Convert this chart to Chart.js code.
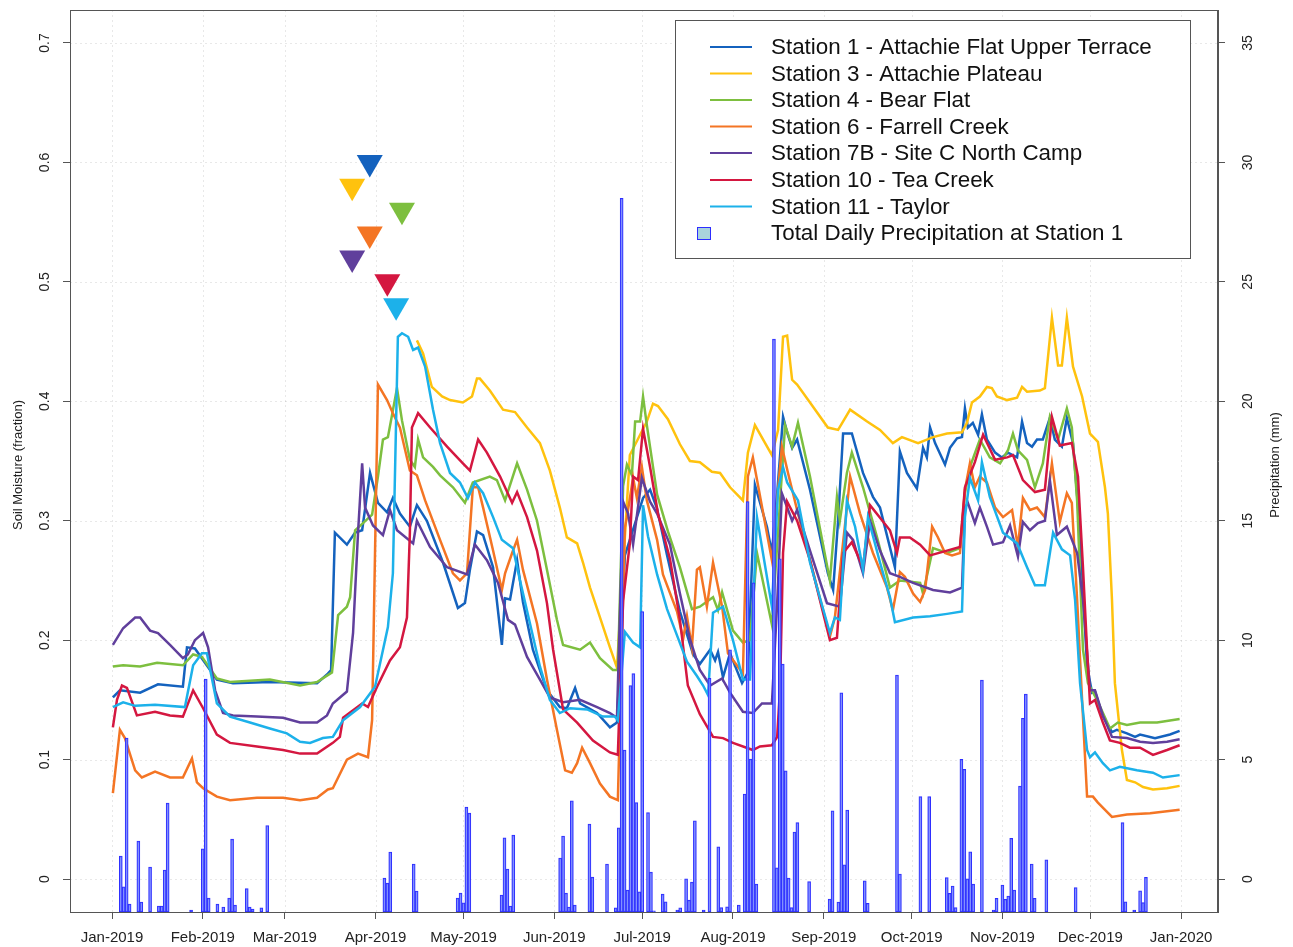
<!DOCTYPE html>
<html><head><meta charset="utf-8">
<script src="https://cdn.jsdelivr.net/npm/chart.js@4.4.1/dist/chart.umd.min.js"></script>
<style>html,body{margin:0;padding:0;background:#fff;overflow:hidden}</style>
</head><body><canvas id="c" width="1293" height="947"></canvas>
<script>
// ---------- DATA ----------
// x = day of 2019 (0 = Jan 1), y = soil moisture fraction
const monthDays = [0,31,59,90,120,151,181,212,243,273,304,334,365];
const monthLabels = ["Jan-2019","Feb-2019","Mar-2019","Apr-2019","May-2019","Jun-2019","Jul-2019","Aug-2019","Sep-2019","Oct-2019","Nov-2019","Dec-2019","Jan-2020"];
const moistureTicks = [0,0.1,0.2,0.3,0.4,0.5,0.6,0.7];
const moistureTickLabels = ["0","0.1","0.2","0.3","0.4","0.5","0.6","0.7"];
const precipTicks = [0,5,10,15,20,25,30,35];
const precipTickLabels = ["0","5","10","15","20","25","30","35"];

const stationNames = ["Station 1 - Attachie Flat Upper Terrace","Station 3 - Attachie Plateau","Station 4 - Bear Flat","Station 6 - Farrell Creek","Station 7B - Site C North Camp","Station 10 - Tea Creek","Station 11 - Taylor"];
const precipName = "Total Daily Precipitation at Station 1";

const st1 = [[0.3,0.152],[2.7,0.158],[9.6,0.156],[15.7,0.163],[24.2,0.161],[25.6,0.194],[28.3,0.193],[35.8,0.167],[41.3,0.164],[53.9,0.165],[70,0.164],[73.7,0.172],[74.8,0.175],[76.1,0.29],[80.2,0.28],[83,0.29],[85.4,0.292],[88.1,0.34],[90.8,0.315],[93.9,0.307],[95.9,0.319],[98.3,0.306],[101.7,0.295],[104.1,0.313],[107.5,0.30],[113,0.265],[118.1,0.227],[120.5,0.231],[122.2,0.259],[124.6,0.291],[126.7,0.288],[130.1,0.261],[133.1,0.196],[134.2,0.235],[135.9,0.234],[138.3,0.267],[140.3,0.232],[143.7,0.192],[148.5,0.158],[152.9,0.144],[155.3,0.143],[158.1,0.16],[159.8,0.147],[165.6,0.139],[170,0.127],[172.4,0.131],[175.1,0.271],[181.3,0.319],[183.7,0.326],[186.1,0.31],[189.5,0.271],[193.9,0.224],[198.4,0.188],[200.7,0.18],[204.2,0.192],[205.9,0.183],[206.9,0.19],[208.6,0.169],[211,0.189],[215.1,0.164],[217.1,0.173],[219.5,0.33],[223.6,0.295],[225.3,0.273],[227.1,0.323],[229.1,0.387],[230.5,0.374],[232.2,0.361],[233.9,0.368],[238.3,0.326],[244.4,0.256],[246.2,0.242],[247.9,0.30],[249.6,0.373],[252.6,0.373],[256.4,0.34],[259.8,0.32],[262.2,0.311],[267.3,0.261],[269,0.358],[271.4,0.34],[274.8,0.327],[276.9,0.361],[278.2,0.353],[279.3,0.378],[281,0.365],[284.4,0.347],[286.1,0.361],[288.5,0.369],[290.2,0.37],[291.2,0.394],[292.2,0.378],[293.9,0.382],[295.7,0.372],[297,0.389],[298.7,0.368],[301.5,0.357],[303.8,0.353],[305.9,0.357],[309,0.353],[310.7,0.383],[312.4,0.365],[314.1,0.362],[315.8,0.368],[317.8,0.368],[320.2,0.386],[321.9,0.368],[324.3,0.362],[326,0.386],[328.1,0.365],[330.5,0.29],[332.9,0.178],[334.6,0.156],[335.6,0.157],[338.3,0.136],[341.4,0.123],[343.1,0.125],[346.5,0.122],[349.3,0.119],[351,0.121],[356.1,0.118],[361.2,0.121],[364.5,0.124]];

const st3 = [[104.1,0.451],[106.2,0.44],[109.2,0.412],[112.7,0.404],[115.4,0.401],[119.8,0.399],[122.9,0.404],[124.6,0.419],[125.6,0.419],[129,0.409],[133.5,0.393],[137.6,0.391],[141.7,0.378],[146.1,0.365],[149.5,0.342],[152.9,0.311],[155.3,0.286],[158.8,0.281],[160.8,0.265],[163.2,0.244],[166.6,0.219],[170,0.194],[172.4,0.177],[176.8,0.355],[182.6,0.383],[184.7,0.398],[186.4,0.396],[189.8,0.385],[193.9,0.364],[197.3,0.35],[200.7,0.349],[204.8,0.341],[207.6,0.34],[211,0.328],[215.4,0.317],[217.1,0.357],[219.5,0.38],[225.3,0.355],[227.4,0.376],[229.1,0.454],[230.5,0.455],[232.2,0.418],[233.9,0.414],[238.3,0.399],[244.4,0.378],[247.9,0.376],[252,0.393],[257.8,0.383],[262.2,0.376],[266.6,0.365],[269.7,0.37],[275.2,0.365],[280.3,0.37],[285.1,0.373],[290.2,0.374],[291.9,0.382],[293.6,0.399],[296.3,0.404],[298.7,0.412],[300.4,0.411],[302.1,0.404],[305.6,0.401],[309,0.403],[310.7,0.412],[312.4,0.408],[316.8,0.409],[318.5,0.411],[320.9,0.47],[323,0.43],[324.3,0.43],[326,0.47],[328.1,0.429],[331.2,0.404],[333.9,0.373],[336.6,0.366],[339,0.328],[340,0.306],[341.4,0.234],[342.4,0.164],[344.8,0.108],[346.5,0.083],[349.3,0.081],[352,0.077],[355.4,0.075],[360.2,0.076],[364.5,0.078]];

const st4 = [[0.3,0.178],[3.8,0.179],[9.6,0.178],[15.4,0.181],[24.2,0.179],[27.7,0.188],[30.7,0.186],[35.8,0.168],[40.3,0.165],[53.9,0.167],[64.2,0.162],[70,0.165],[75.1,0.173],[77.2,0.221],[80.2,0.228],[81.3,0.236],[83,0.292],[85.7,0.298],[88.8,0.305],[90.8,0.337],[92.5,0.368],[94.2,0.37],[97.3,0.411],[99,0.384],[101.7,0.351],[103.4,0.345],[104.5,0.368],[106.2,0.353],[109.6,0.345],[112,0.338],[116.4,0.328],[120.5,0.315],[123.2,0.332],[129,0.337],[131.4,0.334],[134.2,0.317],[138.3,0.348],[141.7,0.326],[145.1,0.30],[148.5,0.259],[151.9,0.217],[154,0.196],[159.8,0.192],[163.2,0.198],[166.6,0.185],[171,0.175],[172.7,0.175],[174.5,0.329],[175.8,0.347],[177.5,0.338],[178.6,0.383],[180.3,0.383],[181.3,0.404],[182.6,0.38],[186.1,0.322],[189.8,0.291],[193.9,0.261],[198,0.226],[200.7,0.228],[205.2,0.236],[206.9,0.225],[208.3,0.24],[212,0.208],[215.4,0.198],[217.8,0.20],[220.2,0.273],[225.3,0.213],[229.8,0.38],[232.2,0.362],[234.2,0.382],[238.3,0.337],[245.1,0.25],[247.5,0.32],[248.5,0.30],[250.9,0.34],[252.6,0.357],[256.4,0.328],[261.2,0.286],[265.6,0.244],[269,0.25],[275.9,0.248],[276.9,0.239],[280.3,0.277],[285.1,0.273],[289.5,0.277],[291.2,0.323],[292.9,0.345],[296.3,0.368],[299.7,0.353],[303.2,0.348],[305.9,0.359],[307.6,0.373],[309.3,0.359],[312.4,0.351],[315.1,0.328],[317.8,0.348],[320.2,0.387],[323,0.368],[326,0.394],[327.7,0.378],[329.5,0.317],[331.5,0.192],[333.2,0.164],[336.3,0.15],[340.7,0.126],[343.4,0.131],[346.5,0.129],[351,0.131],[356.8,0.131],[364.5,0.134]];

const st6 = [[0.3,0.072],[2.7,0.125],[4.4,0.118],[7.9,0.091],[10.2,0.085],[14.7,0.09],[19.8,0.085],[24.2,0.085],[27.3,0.101],[29,0.081],[31.1,0.076],[35.8,0.069],[40.3,0.066],[49.5,0.068],[58.4,0.068],[64.2,0.066],[70,0.068],[73.7,0.075],[75.4,0.076],[80.2,0.10],[84,0.105],[87.4,0.102],[88.8,0.133],[90.8,0.414],[93.9,0.401],[95.9,0.39],[98.3,0.378],[101.7,0.342],[104.1,0.338],[106.9,0.317],[112,0.284],[116.4,0.256],[118.8,0.25],[121.2,0.256],[123.2,0.328],[125,0.328],[126.7,0.311],[130.1,0.275],[133.1,0.242],[134.2,0.256],[136.6,0.273],[138.3,0.284],[140.3,0.259],[145.1,0.214],[148.5,0.167],[151.9,0.125],[154.7,0.091],[157,0.089],[158.8,0.097],[160.5,0.11],[163.2,0.097],[166.6,0.08],[170,0.069],[172.7,0.066],[175.1,0.294],[175.8,0.303],[177.9,0.336],[179.2,0.319],[180.9,0.345],[182.6,0.317],[186.1,0.284],[188.1,0.255],[192.9,0.224],[195,0.201],[196.3,0.22],[198,0.194],[199.7,0.259],[200.7,0.261],[203.1,0.228],[205.2,0.265],[208.3,0.228],[210.3,0.189],[215.4,0.172],[217.1,0.337],[218.8,0.353],[225.3,0.267],[228.7,0.362],[230.8,0.34],[233.9,0.309],[238.3,0.267],[245.1,0.203],[246.8,0.219],[250.9,0.311],[252,0.337],[255.4,0.306],[259.8,0.273],[264.6,0.244],[266.6,0.225],[269,0.257],[270.7,0.253],[273.5,0.239],[275.9,0.232],[277.6,0.242],[280,0.295],[282,0.286],[284.4,0.273],[286.8,0.271],[289.5,0.273],[291.2,0.326],[292.9,0.348],[294.6,0.328],[296.3,0.337],[298.7,0.332],[301.5,0.311],[304.2,0.303],[307.3,0.309],[309.3,0.278],[311,0.319],[313.4,0.309],[315.8,0.311],[318.5,0.303],[320.9,0.348],[323.6,0.299],[326,0.323],[327.7,0.315],[329.5,0.234],[331.2,0.15],[332.9,0.069],[334.9,0.069],[336.6,0.064],[341.4,0.052],[346.5,0.054],[354.4,0.055],[364.5,0.058]];

const st7b = [[0.3,0.196],[3.8,0.21],[7.9,0.219],[9.6,0.219],[13,0.208],[15.7,0.206],[19.8,0.196],[24.2,0.185],[25.9,0.188],[28.3,0.20],[31.1,0.206],[32.8,0.194],[35.2,0.158],[37.9,0.139],[41.3,0.137],[49.5,0.136],[58.4,0.135],[64.2,0.131],[70,0.131],[73.4,0.137],[75.4,0.147],[80.2,0.157],[82.3,0.206],[84,0.29],[85.4,0.348],[86.4,0.311],[89.1,0.296],[92.5,0.288],[94.9,0.309],[97.3,0.292],[102.8,0.281],[104.1,0.30],[108.6,0.278],[114.4,0.261],[121.2,0.255],[123.9,0.28],[128,0.267],[131.8,0.248],[135.2,0.217],[137.6,0.213],[141.7,0.186],[146.1,0.167],[149.5,0.152],[154,0.148],[159.8,0.15],[165.6,0.144],[170,0.139],[172.4,0.135],[174.5,0.316],[176.2,0.306],[177.9,0.28],[180.9,0.336],[183.7,0.316],[186.1,0.306],[190.5,0.28],[193.9,0.239],[197.3,0.201],[200.7,0.175],[204.2,0.162],[208.3,0.168],[211,0.156],[215.4,0.14],[218.8,0.139],[221.9,0.147],[225.3,0.147],[227.1,0.231],[228.7,0.323],[232.2,0.30],[233.9,0.309],[238.3,0.275],[244.1,0.231],[248.5,0.228],[250.9,0.29],[253,0.284],[256.4,0.256],[258.8,0.30],[262.2,0.275],[265.6,0.256],[269,0.253],[273.5,0.248],[280.3,0.242],[286.1,0.24],[290.2,0.244],[291.2,0.311],[292.2,0.315],[294.6,0.298],[296.3,0.311],[298.7,0.295],[300.8,0.28],[304.2,0.282],[306.6,0.296],[309.3,0.27],[311,0.299],[313.4,0.292],[316.1,0.298],[318.5,0.30],[320.2,0.334],[322.6,0.288],[326,0.295],[329.5,0.273],[331.5,0.234],[333.9,0.158],[335.6,0.158],[338.3,0.137],[341.4,0.119],[346.5,0.118],[351,0.115],[355.4,0.114],[360.2,0.115],[364.5,0.117]];

const st10 = [[0.3,0.127],[1.7,0.15],[3.4,0.162],[5.1,0.16],[8.5,0.137],[14.7,0.14],[19.8,0.137],[24.2,0.136],[27.7,0.158],[31.1,0.143],[35.8,0.121],[40.3,0.114],[49.5,0.111],[58.4,0.108],[64.2,0.105],[70,0.105],[75.4,0.114],[77.8,0.119],[78.9,0.135],[85.4,0.147],[87.4,0.144],[90.5,0.161],[94.9,0.183],[98.3,0.194],[100.7,0.219],[101.7,0.29],[102.4,0.378],[104.5,0.39],[108.6,0.378],[114.4,0.362],[119.8,0.348],[122.2,0.342],[125,0.368],[128,0.357],[132.5,0.337],[136.6,0.315],[138.3,0.324],[141.7,0.303],[145.1,0.275],[148.5,0.231],[150.6,0.192],[154,0.142],[158.8,0.131],[164.2,0.116],[170,0.106],[172.7,0.104],[174.5,0.233],[176.8,0.281],[177.9,0.337],[179.6,0.334],[181.3,0.377],[183.7,0.345],[186.4,0.306],[190.5,0.268],[193.9,0.217],[196.6,0.162],[200.7,0.138],[205.2,0.119],[208.6,0.118],[212,0.114],[218.8,0.108],[221.2,0.111],[225.3,0.112],[227.1,0.119],[228.1,0.161],[229.1,0.273],[230.5,0.316],[233.9,0.30],[238.3,0.267],[245.1,0.20],[247.5,0.202],[249.6,0.273],[252.6,0.282],[256.4,0.261],[258.8,0.313],[265.6,0.292],[268,0.273],[269,0.286],[272.4,0.286],[275.9,0.28],[279.3,0.271],[285.1,0.275],[289.5,0.278],[291.2,0.328],[294.6,0.349],[297.4,0.372],[301.5,0.351],[305.6,0.353],[307.6,0.355],[311,0.334],[315.1,0.324],[318.5,0.326],[320.9,0.387],[323.6,0.363],[327.7,0.365],[329.8,0.337],[331.5,0.261],[332.9,0.192],[333.9,0.147],[335.6,0.15],[338.3,0.131],[340.7,0.116],[344.1,0.114],[347.5,0.11],[351,0.11],[355.4,0.104],[360.2,0.108],[364.5,0.112]];

const st11 = [[0.3,0.144],[3.8,0.148],[7.9,0.145],[14.7,0.146],[24.9,0.144],[27.7,0.179],[30.7,0.189],[32.4,0.189],[35.8,0.147],[40.3,0.136],[47.1,0.131],[53.9,0.126],[59.7,0.122],[64.2,0.115],[67.6,0.114],[72,0.118],[75.4,0.119],[78.9,0.133],[84.7,0.144],[89.8,0.161],[94.2,0.211],[95.9,0.256],[97.6,0.454],[99,0.457],[101.1,0.454],[102.8,0.443],[104.5,0.445],[106.9,0.429],[109.6,0.393],[112,0.365],[115.4,0.34],[118.8,0.332],[121.5,0.319],[123.9,0.332],[126.7,0.323],[130.1,0.303],[133.1,0.284],[136.9,0.277],[139.3,0.25],[142.7,0.214],[146.1,0.178],[149.5,0.15],[152.9,0.139],[156.4,0.143],[162.2,0.142],[167.6,0.136],[171.7,0.136],[172.7,0.133],[175.1,0.207],[177.9,0.198],[180.3,0.194],[181.3,0.313],[183,0.287],[186.1,0.255],[189.5,0.226],[192.9,0.204],[196.3,0.182],[199.7,0.17],[201.8,0.162],[203.5,0.154],[205.2,0.223],[208.6,0.228],[212,0.20],[215.4,0.167],[217.8,0.167],[220.2,0.303],[225.3,0.228],[227.4,0.326],[229.1,0.345],[230.5,0.332],[234.2,0.317],[238.3,0.265],[245.1,0.206],[246.8,0.219],[248.5,0.217],[250.9,0.317],[253.7,0.295],[256.4,0.259],[258.1,0.303],[262.2,0.265],[265.6,0.236],[267.3,0.215],[273.5,0.219],[279.3,0.22],[285.1,0.222],[290.2,0.224],[291.2,0.303],[292.9,0.336],[295.7,0.317],[297,0.349],[299.7,0.32],[304.2,0.29],[309,0.281],[312.4,0.261],[315.1,0.246],[318.5,0.246],[321.3,0.29],[324.3,0.276],[327.1,0.271],[328.8,0.234],[330.5,0.164],[332.9,0.108],[333.9,0.102],[335.6,0.106],[338.3,0.097],[340.7,0.091],[344.1,0.094],[349.9,0.091],[355.4,0.089],[358.8,0.085],[364.5,0.087]];

// daily precipitation (mm) at Station 1, read against the right axis
const precipDays = [3,4,5,6,9,10,13,16,17,18,19,27,31,32,33,36,38,40,41,42,46,47,48,51,53,93,94,95,103,104,118,119,120,121,122,133,134,135,136,137,153,154,155,156,157,158,163,164,169,172,173,174,175,176,177,178,179,180,181,183,184,185,188,189,193,194,196,197,198,199,202,204,207,208,210,211,214,216,217,218,219,220,226,227,228,229,230,231,232,233,234,238,245,246,248,249,250,251,257,258,268,269,276,279,285,286,287,288,290,291,292,293,294,297,301,302,304,305,306,307,308,310,311,312,314,315,319,329,345,346,349,351,352,353];
const precipVals = [0.96,-0.33,5.9,-1.05,1.59,-0.96,0.5,-1.13,-1.13,0.38,3.18,-1.3,1.26,8.37,-0.8,-1.05,-1.17,-0.8,1.67,-1.09,-0.4,-1.17,-1.26,-1.21,2.24,0.04,-0.17,1.13,0.63,-0.5,-0.8,-0.59,-1.0,3.01,2.76,-0.67,1.72,0.42,-1.13,1.84,0.88,1.8,-0.59,-1.17,3.27,-1.09,2.3,0.08,0.63,-1.21,2.14,28.5,5.4,-0.46,8.1,8.6,3.2,-0.54,11.2,2.78,0.29,-1.33,-0.63,-0.95,-1.3,-1.21,0.01,-0.88,-0.13,2.44,-1.3,8.4,1.35,-1.2,-1.16,9.6,-1.09,3.56,15.8,5.02,12.4,-0.21,22.6,0.47,13.4,9.0,4.53,0.04,-1.2,1.97,2.36,-0.11,-0.84,2.86,-0.96,7.8,0.59,2.89,-0.08,-1.02,8.54,0.21,3.45,3.45,0.06,-0.6,-0.29,-1.2,5.01,4.59,0.01,1.14,-0.21,8.33,-1.3,-0.81,-0.25,-0.85,-0.71,1.7,-0.46,3.89,6.73,7.74,0.63,-0.81,0.8,-0.36,2.36,-0.95,-1.3,-0.49,-0.99,0.07];

// triangle markers (one per station)
const markerDays = [88,82,99,88,82,94,97];
const markerVals = [0.60,0.58,0.56,0.54,0.52,0.50,0.48];

// ---------- STYLE ----------
const stationColors = ["#1462BE","#FFC20E","#7DBF3F","#F47524","#603F9C","#D41740","#1CB1EA"];
const FONT = '"Liberation Sans", Arial, Helvetica, sans-serif';
const xMin = -14.34, xMax = 377.6;
const yMin = -0.0276, yMax = 0.7276;
const y2Min = -1.38, y2Max = 36.38;
const barBorder = "rgb(45,45,255)";
const barFill = "rgba(140,165,255,0.55)";

const stationSets = [st1, st3, st4, st6, st7b, st10, st11];
const datasets = stationSets.map((arr, i) => ({
  type: 'line', label: stationNames[i],
  data: arr.map(p => ({x: p[0], y: p[1]})),
  borderColor: stationColors[i], borderWidth: 2.5, pointRadius: 0, tension: 0,
  fill: false, yAxisID: 'y', order: 10 - i
}));
datasets.push({
  type: 'bar', label: precipName,
  data: precipDays.map((d, i) => ({x: d, y: precipVals[i]})),
  yAxisID: 'y2', base: y2Min, barThickness: 3, borderWidth: 1,
  borderColor: barBorder, backgroundColor: barFill, borderSkipped: false, order: 1
});
datasets.push({
  type: 'line', label: 'markers', showLine: false,
  data: markerDays.map((d, i) => ({x: d, y: markerVals[i]})),
  pointStyle: 'triangle', pointRotation: 180, pointRadius: 15, pointHoverRadius: 15,
  pointBackgroundColor: stationColors, pointBorderWidth: 0, yAxisID: 'y', order: 0
});

const decor = {
  id: 'decor',
  beforeDatasetsDraw(chart) {
    const {ctx, chartArea: a, scales} = chart;
    ctx.save();
    ctx.strokeStyle = 'rgba(0,0,0,0.09)'; ctx.lineWidth = 1; ctx.setLineDash([2, 3]);
    monthDays.forEach(d => {
      const px = Math.round(scales.x.getPixelForValue(d)) + 0.5;
      ctx.beginPath(); ctx.moveTo(px, a.top); ctx.lineTo(px, a.bottom); ctx.stroke();
    });
    moistureTicks.forEach(v => {
      const py = Math.round(scales.y.getPixelForValue(v)) + 0.5;
      ctx.beginPath(); ctx.moveTo(a.left, py); ctx.lineTo(a.right, py); ctx.stroke();
    });
    ctx.restore();
  },
  afterDatasetsDraw(chart) {
    const {ctx} = chart;
    ctx.save();
    // legend box
    ctx.fillStyle = '#fff'; ctx.fillRect(675, 20, 515, 238);
    ctx.strokeStyle = '#555'; ctx.lineWidth = 1; ctx.strokeRect(675.5, 20.5, 515, 238);
    ctx.font = '22.4px ' + FONT; ctx.fillStyle = '#111'; ctx.textBaseline = 'middle'; ctx.textAlign = 'left';
    const rowY = [47, 73.5, 100, 126.5, 153, 180, 206.5, 233];
    stationNames.forEach((n, i) => {
      ctx.strokeStyle = stationColors[i]; ctx.lineWidth = 2;
      ctx.beginPath(); ctx.moveTo(710, rowY[i]); ctx.lineTo(752, rowY[i]); ctx.stroke();
      ctx.fillText(n, 771, rowY[i] + 1);
    });
    ctx.fillStyle = '#a9d3dc'; ctx.fillRect(697, 227, 14, 13);
    ctx.strokeStyle = barBorder; ctx.lineWidth = 1; ctx.strokeRect(697.5, 227.5, 13, 12);
    ctx.fillStyle = '#111'; ctx.fillText(precipName, 771, rowY[7] + 1);
    ctx.restore();
  },
  afterDraw(chart) {
    const {ctx, chartArea: a, scales} = chart;
    ctx.save();
    ctx.strokeStyle = '#555'; ctx.lineWidth = 1; ctx.setLineDash([]);
    ctx.strokeRect(a.left + 0.5, a.top + 0.5, a.right - a.left - 1, a.bottom - a.top);
    ctx.fillStyle = '#222'; ctx.textAlign = 'center'; ctx.textBaseline = 'middle';
    ctx.font = '14px ' + FONT;
    moistureTicks.forEach((v, i) => {
      const py = scales.y.getPixelForValue(v);
      ctx.save(); ctx.translate(45, py); ctx.rotate(-Math.PI / 2);
      ctx.fillText(moistureTickLabels[i], 0, 0); ctx.restore();
    });
    precipTicks.forEach((v, i) => {
      const py = scales.y2.getPixelForValue(v);
      ctx.save(); ctx.translate(1248, py); ctx.rotate(-Math.PI / 2);
      ctx.fillText(precipTickLabels[i], 0, 0); ctx.restore();
    });
    ctx.font = '13px ' + FONT;
    const mid = (a.top + a.bottom) / 2 + 4;
    ctx.save(); ctx.translate(18, mid); ctx.rotate(-Math.PI / 2);
    ctx.fillText('Soil Moisture (fraction)', 0, 0); ctx.restore();
    ctx.save(); ctx.translate(1275, mid); ctx.rotate(-Math.PI / 2);
    ctx.fillText('Precipitation (mm)', 0, 0); ctx.restore();
    ctx.restore();
  }
};

new Chart(document.getElementById('c'), {
  data: {datasets},
  options: {
    responsive: false, animation: false, devicePixelRatio: 1,
    layout: {autoPadding: false, padding: {top: 10, left: 0, right: 0, bottom: 0}},
    plugins: {legend: {display: false}, tooltip: {enabled: false}},
    scales: {
      x: {
        type: 'linear', min: xMin, max: xMax, offset: false,
        afterBuildTicks: s => { s.ticks = monthDays.map(v => ({value: v})); },
        afterFit: s => { s.height = 35; },
        ticks: {callback: (v, i) => monthLabels[i], font: {family: FONT, size: 15}, color: '#222', padding: 10, maxRotation: 0, minRotation: 0, autoSkip: false},
        grid: {offset: false, drawOnChartArea: false, drawTicks: true, tickLength: 7, tickColor: '#555'},
        border: {display: true, color: '#555'}
      },
      y: {
        type: 'linear', position: 'left', min: yMin, max: yMax,
        afterBuildTicks: s => { s.ticks = moistureTicks.map(v => ({value: v})); },
        afterFit: s => { s.width = 70; },
        ticks: {display: false},
        grid: {offset: false, drawOnChartArea: false, drawTicks: true, tickLength: 7, tickColor: '#555'},
        border: {display: true, color: '#555'}
      },
      y2: {
        type: 'linear', position: 'right', min: y2Min, max: y2Max,
        afterBuildTicks: s => { s.ticks = precipTicks.map(v => ({value: v})); },
        afterFit: s => { s.width = 75; },
        ticks: {display: false},
        grid: {offset: false, drawOnChartArea: false, drawTicks: true, tickLength: 7, tickColor: '#555'},
        border: {display: true, color: '#555'}
      }
    }
  },
  plugins: [decor]
});
</script></body></html>
